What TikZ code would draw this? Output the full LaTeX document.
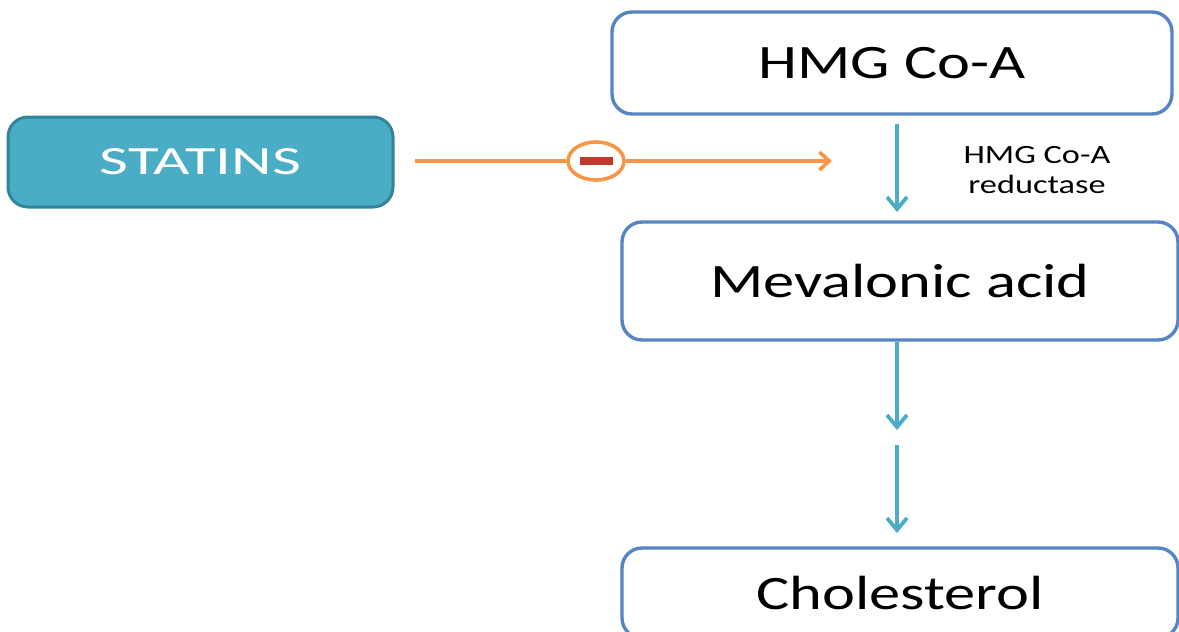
\documentclass[tikz,border=0pt]{standalone}
\usepackage{fontspec}
\setmainfont{Carlito}
\newfontfamily\stretchfont[FakeStretch=1.3]{Carlito}
\newfontfamily\statfont[FakeStretch=1.57]{Carlito}
\usetikzlibrary{arrows.meta,shapes.geometric}
\definecolor{boxblue}{HTML}{5585C2}
\definecolor{tealfill}{HTML}{4BACC6}
\definecolor{tealdraw}{HTML}{31849B}
\definecolor{arrowteal}{HTML}{4BACC6}
\definecolor{orng}{HTML}{F79646}
\definecolor{minusred}{HTML}{C0392B}
\tikzset{
  stepbox/.style={draw=boxblue, line width=1.7pt, rounded corners=10pt, fill=white,
    font=\stretchfont\fontsize{24}{28}\selectfont, text=black},
  statbox/.style={draw=tealdraw, line width=1.5pt, rounded corners=10pt, fill=tealfill,
    font=\statfont\fontsize{20}{24}\selectfont, text=white},
  flow/.style={draw=arrowteal, line width=1.9pt, -{Straight Barb[length=6pt,width=10pt,line width=1.9pt]}},
  inhib/.style={draw=orng, line width=1.8pt},
}
\begin{document}
\begin{tikzpicture}[x=0.5pt,y=-0.5pt]
\useasboundingbox (0,0) rectangle (1179,632);
\clip (0,0) rectangle (1179,632);
\node[statbox, minimum width=192.5pt, minimum height=45pt] (statins) at (200.5,162) {STATINS};
\node[stepbox, minimum width=280pt, minimum height=51pt] (hmg) at (892,63) {HMG Co-A};
\node[stepbox, minimum width=278pt, minimum height=59pt] (mev) at (900,281) {Mevalonic acid};
\node[stepbox, minimum width=278pt, minimum height=45pt] (chol) at (900,593) {Cholesterol};
\node[font=\stretchfont\fontsize{13.2}{14.8}\selectfont, align=center, text=black] (enz) at (1037,170) {HMG Co-A\\reductase};
% teal pathway arrows
\coordinate (a1s) at (897,124);
\coordinate (a1e) at (897,212);
\coordinate (a2s) at (897,342);
\coordinate (a2e) at (897,430);
\coordinate (a3s) at (897,445);
\coordinate (a3e) at (897,533);
\draw[flow] (a1s) -- (a1e);
\draw[flow] (a2s) -- (a2e);
\draw[flow] (a3s) -- (a3e);
% inhibition arrow
\coordinate (os) at (415,161);
\coordinate (oe) at (832,161);
\node[ellipse, draw=orng, line width=1.8pt, fill=white, minimum width=28pt, minimum height=19pt, inner sep=0pt] (inh) at (596,161) {\textcolor{minusred}{\rule[-2pt]{16.5pt}{4pt}}};
\draw[inhib] (os) -- (inh);
\draw[inhib, -{Straight Barb[length=5pt,width=9pt,line width=1.8pt]}] (inh) -- (oe);
\end{tikzpicture}
\end{document}
